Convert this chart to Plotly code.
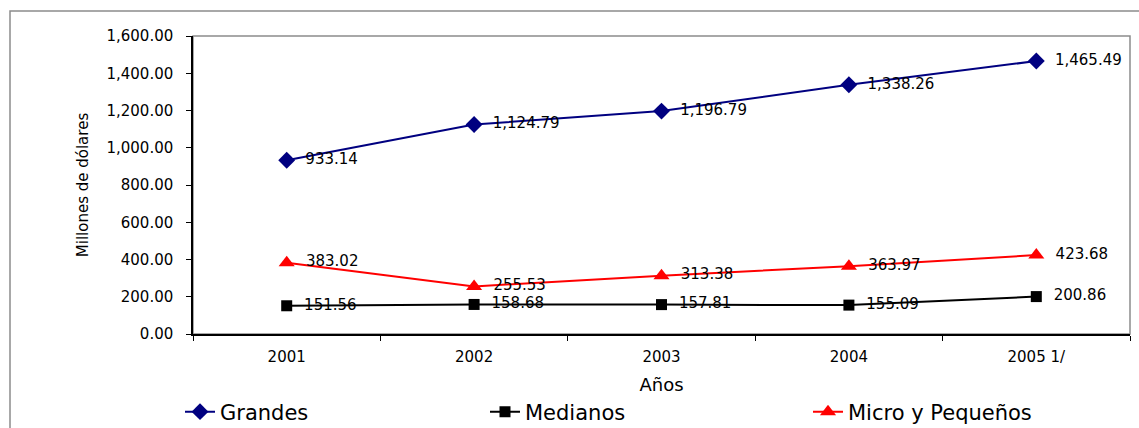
import plotly.graph_objects as go

# Years on the category axis
years = ["2001", "2002", "2003", "2004", "2005 1/"]

# Series values (millones de dólares)
grandes = [933.14, 1124.79, 1196.79, 1338.26, 1465.49]
medianos = [151.56, 158.68, 157.81, 155.09, 200.86]
micro_pequenos = [383.02, 255.53, 313.38, 363.97, 423.68]

W, H = 1139, 428
L, R, T, B = 193, 9, 36, 94
PW, PH = W - L - R, H - T - B

def px_x(x):
    return (x - L) / PW

def px_y(y):
    return (H - B - y) / PH

label_font = dict(family="DejaVu Sans", size=15, color="black")

series = [
    ("Grandes", grandes, "#000080", "diamond", 13, "legend"),
    ("Medianos", medianos, "#000000", "square", 11, "legend2"),
    ("Micro y Pequeños", micro_pequenos, "#FF0000", "triangle-up", 14, "legend3"),
]

fig = go.Figure()
for name, vals, color, symbol, size, leg in series:
    fig.add_trace(go.Scatter(
        x=years, y=vals, name=name, legend=leg,
        mode="lines+markers+text",
        line=dict(color=color, width=2),
        marker=dict(symbol=symbol, size=size, color=color),
        text=[f"  {v:,.2f}" for v in vals],
        textposition="middle right",
        textfont=label_font,
        cliponaxis=False,
    ))

legend_font = dict(family="DejaVu Sans", size=21, color="black")
leg_common = dict(orientation="h", yanchor="middle", xanchor="left",
                  y=px_y(412), font=legend_font, bgcolor="rgba(0,0,0,0)",
                  borderwidth=0, itemwidth=30)

fig.update_layout(
    width=W, height=H,
    margin=dict(l=L, r=R, t=T, b=B, autoexpand=False),
    paper_bgcolor="white", plot_bgcolor="white",
    showlegend=True,
    legend=dict(x=px_x(180), **leg_common),
    legend2=dict(x=px_x(485), **leg_common),
    legend3=dict(x=px_x(808), **leg_common),
    xaxis=dict(
        type="category", range=[-0.5, 4.5],
        showgrid=False, showline=True, linecolor="black", linewidth=1.5,
        ticks="outside", tickson="boundaries", ticklen=5, tickcolor="black",
        ticklabelstandoff=8,
        tickfont=dict(family="DejaVu Sans", size=15, color="black"),
        title=dict(text="Años", font=dict(family="DejaVu Sans", size=18, color="black"), standoff=14),
    ),
    yaxis=dict(
        range=[0, 1600], dtick=200, tickformat=",.2f",
        showgrid=False, showline=True, linecolor="black", linewidth=1.5,
        ticks="outside", ticklen=5, tickcolor="black",
        ticklabelstandoff=10,
        tickfont=dict(family="DejaVu Sans", size=15, color="black"),
        title=dict(text="Millones de dólares", font=dict(family="DejaVu Sans", size=15, color="black"), standoff=14),
        zeroline=False,
    ),
    shapes=[
        # plot-area frame (top and right edges in gray)
        dict(type="rect", xref="paper", yref="paper", x0=0, x1=1, y0=0, y1=1,
             line=dict(color="#8c8c8c", width=1.5), layer="below"),
        # outer chart frame
        dict(type="rect", xref="paper", yref="paper",
             x0=px_x(10), x1=px_x(1150), y0=px_y(450), y1=px_y(11),
             line=dict(color="#8c8c8c", width=1.5), layer="below"),
    ],
)

fig.write_html("out.html")
